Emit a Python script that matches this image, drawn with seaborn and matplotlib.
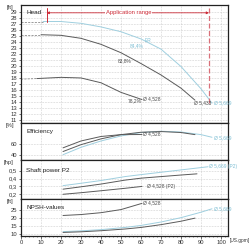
"""
Pump performance curves: head, efficiency, shaft power and NPSH vs. flow
for three impeller diameters.
"""
import matplotlib
matplotlib.use("Agg")
import matplotlib.pyplot as plt
import numpy as np
import pandas as pd
import seaborn as sns
from matplotlib.ticker import FixedLocator, FuncFormatter, MultipleLocator

# impeller diameters [in]
impellers = ["Ø 5,669", "Ø 5,433", "Ø 4,528"]
palette = {"Ø 5,669": "#9fcfdf", "Ø 5,433": "#5a5a5a", "Ø 4,528": "#5a5a5a"}

# Head [ft] vs. flow [US gpm]
head_q = {
    "Ø 5,669": [11, 20, 30, 40, 50, 60, 70, 80, 90, 95.5],
    "Ø 5,433": [10, 20, 30, 40, 50, 60, 70, 80, 87],
    "Ø 4,528": [8, 20, 30, 40, 50, 60.5],
}
head_h = {
    "Ø 5,669": [27.4, 27.4, 27.1, 26.5, 25.7, 24.5, 22.8, 19.9, 16.2, 13.8],
    "Ø 5,433": [25.2, 25.1, 24.6, 23.6, 22.2, 20.4, 18.5, 16.3, 14.3],
    "Ø 4,528": [17.9, 18.1, 18.0, 17.2, 15.6, 14.4],
}
# dashed part below the minimum flow
head_low_q = {"Ø 5,669": [0, 11], "Ø 5,433": [0, 10], "Ø 4,528": [0, 8]}
head_low_h = {"Ø 5,669": [27.4, 27.4], "Ø 5,433": [25.2, 25.2], "Ø 4,528": [17.8, 17.9]}

# Efficiency [%]
eff_q = {
    "Ø 5,669": [21, 30, 40, 50, 60, 70, 80, 90, 95.5],
    "Ø 5,433": [21, 30, 40, 50, 60, 70, 80, 87],
    "Ø 4,528": [21, 30, 40, 50, 60.5],
}
eff_e = {
    "Ø 5,669": [40, 54, 66, 75.5, 82, 84.4, 83, 78, 73],
    "Ø 5,433": [46, 59, 70, 78, 82.5, 83.8, 82, 78],
    "Ø 4,528": [53, 66, 74.5, 78, 78.2],
}

# Shaft power P2 [hp]
p2_q = {
    "Ø 5,669": [21, 30, 40, 52, 60, 70, 80, 93.5],
    "Ø 5,433": [21, 30, 40, 52, 60, 70, 80, 88],
    "Ø 4,528": [21, 30, 40, 52, 60.5],
}
p2_p = {
    "Ø 5,669": [0.31, 0.34, 0.375, 0.425, 0.45, 0.48, 0.51, 0.55],
    "Ø 5,433": [0.265, 0.295, 0.33, 0.38, 0.405, 0.425, 0.445, 0.46],
    "Ø 4,528": [0.20, 0.22, 0.245, 0.276, 0.30],
}

# NPSH [ft]
npsh_q = {
    "Ø 5,669": [21, 30, 40, 52, 60, 70, 80, 90, 95.5],
    "Ø 5,433": [21, 30, 40, 52, 60, 70, 80, 87],
    "Ø 4,528": [21, 30, 40, 50, 60.5],
}
npsh_n = {
    "Ø 5,669": [11.3, 11.8, 12.6, 14.0, 15.3, 17.5, 20.3, 23.8, 26.0],
    "Ø 5,433": [10.8, 11.2, 11.9, 13.0, 14.0, 15.8, 18.0, 20.0],
    "Ø 4,528": [21.7, 22.3, 23.5, 25.5, 29.5],
}

x_ticks = [0, 10, 20, 30, 40, 50, 60, 70, 80, 90, 100]
app_range = (12.8, 94.0)

FS = 4.2
LFS = 3.5  # curve labels
RED = "#cc2a36"
BLUE = "#7fbfd4"
DARK = "#4a4a4a"


def to_long(qs, vals, name):
    """Stack per-impeller lists into one long frame for seaborn."""
    frames = [pd.DataFrame({"Q": qs[k], name: vals[k], "imp": k}) for k in impellers]
    return pd.concat(frames, ignore_index=True)


def style_axis(ax, ylim, yticks, unit, title, title_y, fmt=None):
    ax.set_xlim(0, 103.5)
    ax.set_ylim(*ylim)
    ax.yaxis.set_major_locator(FixedLocator(yticks))
    if fmt:
        ax.yaxis.set_major_formatter(FuncFormatter(fmt))
    ax.xaxis.set_major_locator(FixedLocator(x_ticks))
    ax.xaxis.set_minor_locator(MultipleLocator(2))
    ax.grid(True, which="major", ls=(0, (1, 1.5)), color="#b8b8b8", lw=0.45)
    ax.tick_params(axis="both", which="major", labelsize=FS, length=1.8, width=0.5,
                   pad=1, colors="#333333", direction="out", left=True, bottom=True)
    ax.tick_params(axis="both", which="minor", length=1.0, width=0.4, bottom=True)
    for s in ax.spines.values():
        s.set_color("#222222")
        s.set_linewidth(0.9)
    ax.set_xlabel("")
    ax.set_ylabel("")
    ax.text(-0.035, 1.0, unit, transform=ax.transAxes, ha="right", va="top",
            fontsize=FS, color="#333333")
    ax.text(0.025, title_y, title, transform=ax.transAxes, ha="left", va="center",
            fontsize=FS + 0.4, color="#222222")


sns.set_theme(style="white")
plt.rcParams["font.family"] = ["Liberation Sans", "DejaVu Sans"]

fig, axes = plt.subplots(
    4, 1, figsize=(2.5, 2.5), dpi=100, sharex=True,
    gridspec_kw={"height_ratios": [118, 37, 39, 37], "hspace": 0},
)
fig.subplots_adjust(left=0.084, right=0.912, top=0.98, bottom=0.056)
ax_h, ax_e, ax_p, ax_n = axes

# --- Head ---
low = to_long(head_low_q, head_low_h, "H")
sns.lineplot(data=low, x="Q", y="H", hue="imp", palette={k: "#8a8a8a" for k in impellers},
             ax=ax_h, lw=0.6, ls=(0, (2.5, 1.5)), legend=False, sort=False, estimator=None)
sns.lineplot(data=to_long(head_q, head_h, "H"), x="Q", y="H", hue="imp", palette=palette,
             ax=ax_h, lw=0.7, legend=False, sort=False, estimator=None)
style_axis(ax_h, (10.5, 30.15), list(range(11, 30)), "[ft]", "Head", 0.94)

# application range
ax_h.plot([app_range[0]] * 2, [27.3, 29.7], color=RED, lw=0.7)
ax_h.plot([app_range[1]] * 2, [13.8, 29.7], color="#d9707a", lw=0.9, ls=(0, (4, 2)))
ax_h.annotate("", xy=(app_range[0], 28.85), xytext=(app_range[1], 28.85),
              arrowprops=dict(arrowstyle="<|-|>", color=RED, lw=0.6,
                              mutation_scale=3.5, shrinkA=0, shrinkB=0))
ax_h.text(53.7, 28.85, "Application range", color=RED, fontsize=FS, ha="center",
          va="center", bbox=dict(fc="white", ec="none", pad=0.3))

ax_h.text(58, 23.4, "84,4%", color=BLUE, fontsize=LFS, ha="center", va="center")
ax_h.text(63.5, 24.2, "ER", color=BLUE, fontsize=LFS, ha="center", va="center")
ax_h.text(52, 20.9, "83,8%", color=DARK, fontsize=LFS, ha="center", va="center")
ax_h.text(57, 14.2, "78,2%", color=DARK, fontsize=LFS, ha="center", va="center")
ax_h.text(61, 14.6, "Ø 4,528", color=DARK, fontsize=LFS, ha="left", va="center")
ax_h.text(86.5, 13.9, "Ø 5,433", color=DARK, fontsize=LFS, ha="left", va="center")
ax_h.text(96.5, 13.9, "Ø 5,669", color=BLUE, fontsize=LFS, ha="left", va="center")

# --- Efficiency ---
sns.lineplot(data=to_long(eff_q, eff_e, "E"), x="Q", y="E", hue="imp", palette=palette,
             ax=ax_e, lw=0.7, legend=False, sort=False, estimator=None)
style_axis(ax_e, (30, 100), [40, 60], "[%]", "Efficiency", 0.78)
ax_e.text(61, 80, "Ø 4,528", color=DARK, fontsize=LFS, ha="left", va="center")
ax_e.text(96.5, 72, "Ø 5,669", color=BLUE, fontsize=LFS, ha="left", va="center")

# --- Shaft power ---
sns.lineplot(data=to_long(p2_q, p2_p, "P"), x="Q", y="P", hue="imp", palette=palette,
             ax=ax_p, lw=0.7, legend=False, sort=False, estimator=None)
style_axis(ax_p, (0.14, 0.636), [0.2, 0.3, 0.4, 0.5], "[hp]", "Shaft power P2", 0.74,
           fmt=lambda v, _: f"{v:.1f}".replace(".", ","))
ax_p.text(94, 0.555, "Ø 5,669 (P2)", color=BLUE, fontsize=LFS, ha="left", va="center")
ax_p.text(63, 0.30, "Ø 4,528 (P2)", color=DARK, fontsize=LFS, ha="left", va="center")

# --- NPSH ---
sns.lineplot(data=to_long(npsh_q, npsh_n, "N"), x="Q", y="N", hue="imp", palette=palette,
             ax=ax_n, lw=0.7, legend=False, sort=False, estimator=None)
style_axis(ax_n, (8.5, 32.3), [10, 15, 20, 25], "[ft]", "NPSH-values", 0.76)
ax_n.text(61, 29.7, "Ø 4,528", color=DARK, fontsize=LFS, ha="left", va="center")
ax_n.text(96.5, 26.0, "Ø 5,669", color=BLUE, fontsize=LFS, ha="left", va="center")

for ax in axes[:-1]:
    ax.tick_params(axis="x", labelbottom=False)
ax_n.text(1.01, -0.13, "[US.gpm]", transform=ax_n.transAxes, ha="left", va="center",
          fontsize=3.4, color="#333333")

fig.savefig("out.png", dpi=100)
